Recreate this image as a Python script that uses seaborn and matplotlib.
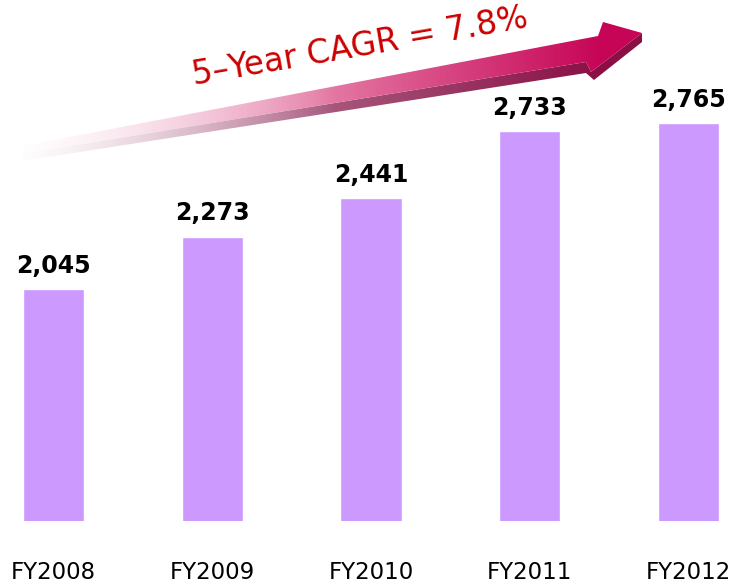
import numpy as np
import pandas as pd
import matplotlib
matplotlib.use("Agg")
import matplotlib.pyplot as plt
from matplotlib.patches import Polygon
import seaborn as sns

categories = ["FY2008", "FY2009", "FY2010", "FY2011", "FY2012"]
values = [2045, 2273, 2441, 2733, 2765]
value_labels = ["2,045", "2,273", "2,441", "2,733", "2,765"]
cagr_text = "5\u2013Year CAGR = 7.8%"

sns.set_theme(style="white")
plt.rcParams["font.family"] = ["DejaVu Sans"]

W, H = 735, 586
fig = plt.figure(figsize=(W / 100, H / 100), dpi=100)
ax = fig.add_axes([0, (H - 521) / H, 1, 521 / H])

df = pd.DataFrame({"year": categories, "value": values})
sns.barplot(data=df, x="year", y="value", color="#CC99FF", saturation=1,
            width=0.385, ax=ax)
ax.set_xlim(-0.337, 4.293)
ax.set_ylim(1036, 3302)
ax.bar_label(ax.containers[0], labels=value_labels, padding=8,
             fontsize=17, fontweight="bold", color="black")
ax.set_xlabel("")
ax.set_ylabel("")
ax.set_yticks([])
ax.tick_params(axis="x", length=0, pad=29, labelsize=16.5, colors="black")
for s in ax.spines.values():
    s.set_visible(False)
ax.set_facecolor("white")

# decorative gradient arrow (pixel coordinates overlay)
ov = fig.add_axes([0, 0, 1, 1], zorder=5)
ov.set_xlim(0, W)
ov.set_ylim(H, 0)
ov.axis("off")
ov.patch.set_alpha(0)

xx = np.linspace(0, W, W)[None, :].repeat(H, axis=0)
t = np.clip((xx - 25) / (600 - 25), 0, 1)
alpha = np.clip((xx - 15) / 320, 0, 1) ** 1.1


def grad(c0, c1, c2):
    c0, c1, c2 = map(np.array, (c0, c1, c2))
    img = np.zeros((H, W, 4))
    for k in range(3):
        lo = c0[k] + (c1[k] - c0[k]) * np.clip(t / 0.5, 0, 1)
        hi = c1[k] + (c2[k] - c1[k]) * np.clip((t - 0.5) / 0.5, 0, 1)
        img[..., k] = np.where(t < 0.5, lo, hi)
    img[..., 3] = alpha
    return img


top_img = grad((0.96, 0.80, 0.87), (0.90, 0.50, 0.66), (0.78, 0.02, 0.34))
dark_img = grad((0.82, 0.66, 0.75), (0.66, 0.36, 0.50), (0.54, 0.06, 0.27))

top_poly = [(22, 146), (598, 36), (603, 22), (642, 33), (591, 72), (586, 62), (22, 154)]
dark_poly = [(22, 154), (586, 62), (591, 72), (642, 33), (642, 42), (594, 80), (586, 73), (22, 161)]

for img, poly in ((dark_img, dark_poly), (top_img, top_poly)):
    p = Polygon(poly, closed=True, facecolor="none", edgecolor="none",
                transform=ov.transData)
    ov.add_patch(p)
    im = ov.imshow(img, extent=(0, W, H, 0), interpolation="bilinear", aspect="auto")
    im.set_clip_path(p)

ov.set_xlim(0, W)
ov.set_ylim(H, 0)
ov.text(360, 47, cagr_text, rotation=9.8, rotation_mode="anchor",
        ha="center", va="center", fontsize=23.5, color="#CC0000")

fig.savefig("out.png", dpi=100, facecolor="white")
